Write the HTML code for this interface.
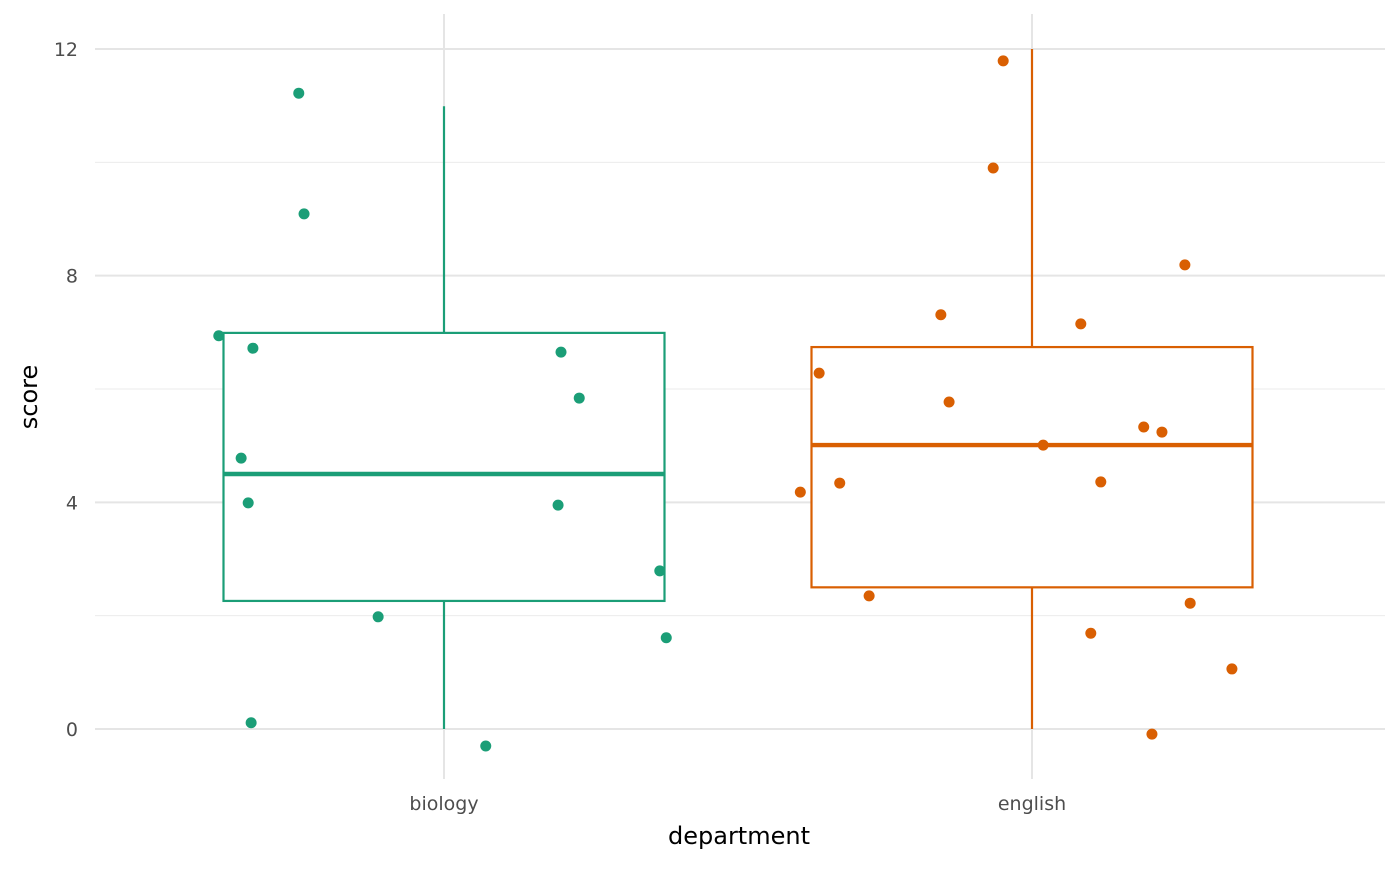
<!DOCTYPE html>
<html><head><meta charset="utf-8"><style>
body{margin:0;background:#fff;font-family:"DejaVu Sans","Liberation Sans",sans-serif;}
svg text{font-family:"DejaVu Sans","Liberation Sans",sans-serif;}
</style></head><body>
<svg id="chart" width="1400" height="865" xmlns="http://www.w3.org/2000/svg">
<g id="grid"></g>
<g id="marks"></g>
<g id="axes"></g>
<text x="739" y="844" font-size="24" text-anchor="middle" fill="#000">department</text>
<text transform="translate(37,397) rotate(-90)" font-size="24" text-anchor="middle" fill="#000">score</text>
</svg>
<script>
const categories = ["biology","english"];
const colors = ["#1b9e77","#d95f02"];
const q1 = [2.26, 2.5];
const medians = [4.5, 5.01];
const q3 = [6.99, 6.74];
const whiskLo = [0, 0];
const whiskHi = [10.99, 12];
const yTicks = [0,4,8,12];
const yMinor = [2,6,10];
const bioJitter = [-0.383,-0.325,-0.247,-0.238,-0.345,-0.333,-0.328,-0.112,0.071,0.199,0.230,0.194,0.367,0.378];
const bioScores = [6.94,6.72,11.22,9.09,4.78,3.99,0.11,1.98,-0.30,6.65,5.84,3.95,2.79,1.61];
const engJitter = [-0.049,-0.066,-0.155,0.083,0.260,-0.362,-0.141,0.019,0.190,0.221,-0.394,-0.327,0.117,-0.277,0.269,0.100,0.340,0.204];
const engScores = [11.79,9.90,7.31,7.15,8.19,6.28,5.77,5.01,5.33,5.24,4.18,4.34,4.36,2.35,2.22,1.69,1.06,-0.09];
const pointsX = [bioJitter, engJitter];
const pointsY = [bioScores, engScores];

const ns="http://www.w3.org/2000/svg";
const y = v => 729 - v*(680/12);
const x = i => 444 + i*588;
const band = 588;
function mk(tag, attrs, parent){const e=document.createElementNS(ns,tag);for(const k in attrs)e.setAttribute(k,attrs[k]);parent.appendChild(e);return e;}
const grid=document.getElementById('grid'), marks=document.getElementById('marks'), axes=document.getElementById('axes');
yMinor.forEach(v=>{const l=mk('line',{x1:95,x2:1385,y1:y(v),y2:y(v),stroke:'#ebebeb','stroke-width':1},grid);

});
yTicks.forEach(v=>{const l=mk('line',{x1:95,x2:1385,y1:y(v),y2:y(v),stroke:'#e5e5e5','stroke-width':2},grid);


const t=mk('text',{x:78,y:y(v)+7,'font-size':19,'text-anchor':'end',fill:'#4d4d4d'},axes);t.textContent=v;

});
categories.forEach((c,i)=>{const l=mk('line',{x1:x(i),x2:x(i),y1:14,y2:779,stroke:'#e5e5e5','stroke-width':2},grid);


const t=mk('text',{x:x(i),y:810,'font-size':19,'text-anchor':'middle',fill:'#4d4d4d'},axes);t.textContent=c;

});
categories.forEach((c,i)=>{
 const g=mk('g',{},marks);
 
 
 const col=colors[i], cx=x(i), hw=band*0.375;
 mk('line',{x1:cx,x2:cx,y1:y(q3[i]),y2:y(whiskHi[i]),stroke:col,'stroke-width':2.2},g);
 mk('line',{x1:cx,x2:cx,y1:y(q1[i]),y2:y(whiskLo[i]),stroke:col,'stroke-width':2.2},g);
 mk('rect',{x:cx-hw,y:y(q3[i]),width:2*hw,height:y(q1[i])-y(q3[i]),fill:'#fff',stroke:col,'stroke-width':2.2},g);
 mk('line',{x1:cx-hw,x2:cx+hw,y1:y(medians[i]),y2:y(medians[i]),stroke:col,'stroke-width':4.4},g);
 pointsX[i].forEach((j,k)=>{const p=mk('circle',{cx:x(i+j),cy:y(pointsY[i][k]),r:5.5,fill:col},marks);
 
 });
});
</script>
</body></html>
